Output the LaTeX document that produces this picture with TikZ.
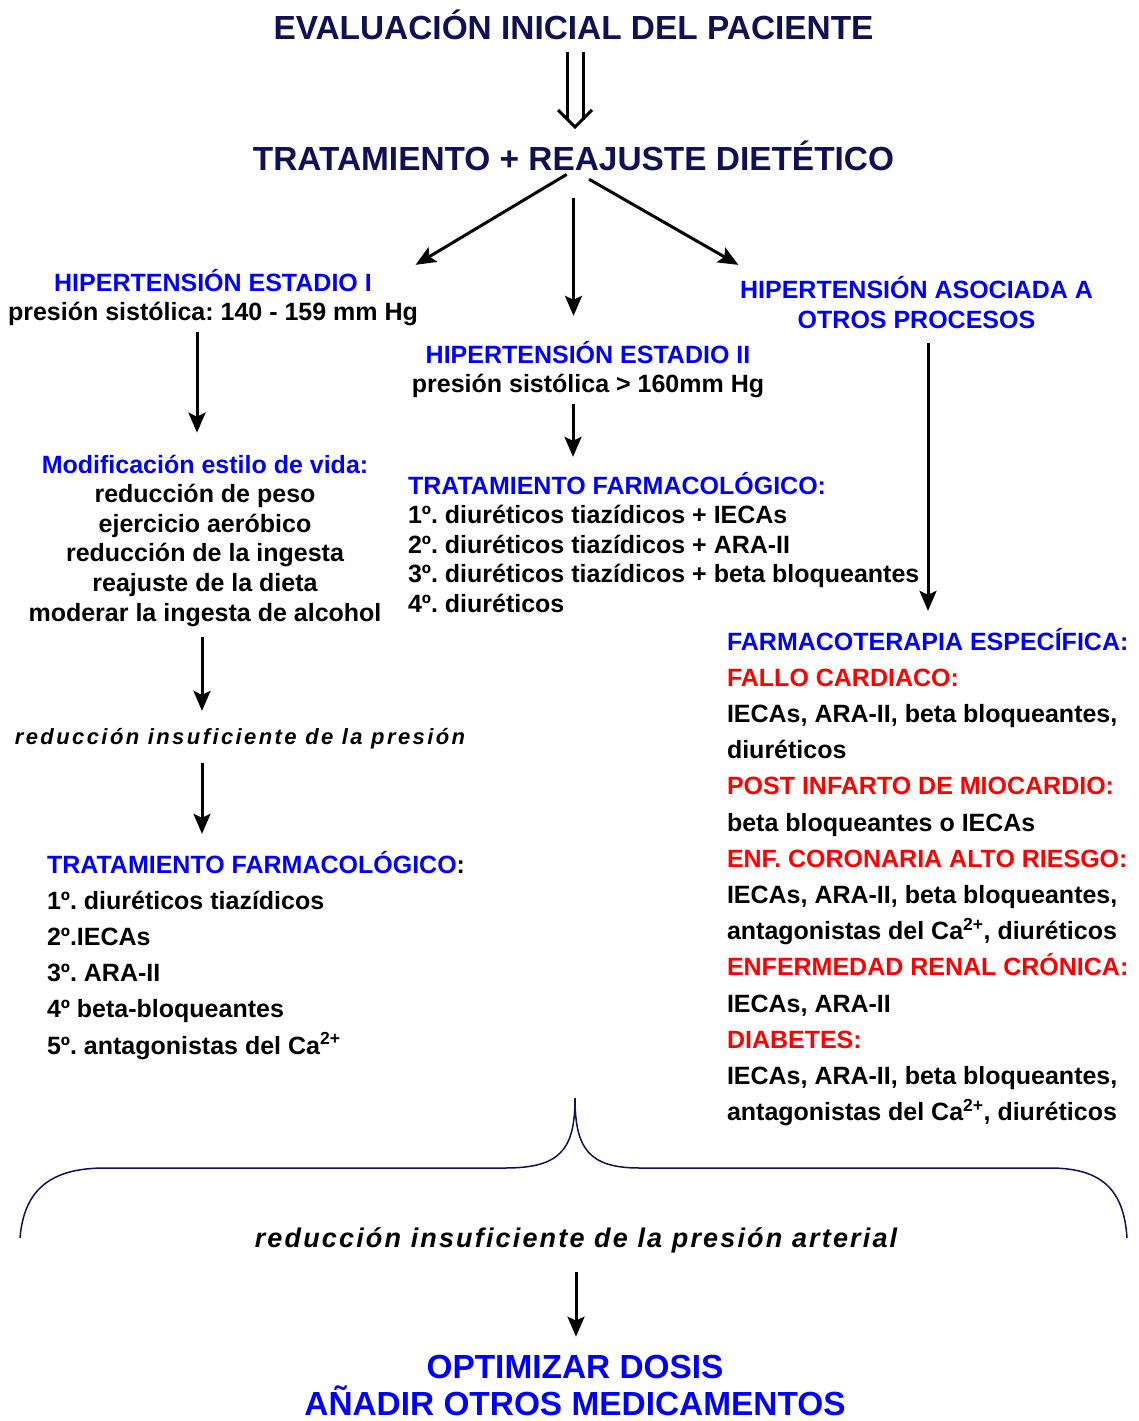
\documentclass[tikz,border=0pt]{standalone}
\usepackage{fontspec}
\setmainfont{Liberation Sans}
\newfontfamily\espaciadoA{Liberation Sans}[LetterSpace=11]
\newfontfamily\espaciadoB{Liberation Sans}[LetterSpace=8]
\usetikzlibrary{arrows.meta}
\definecolor{navy}{RGB}{16,16,84}
\definecolor{azul}{RGB}{0,0,255}
\definecolor{rojo}{RGB}{255,0,0}
\frenchspacing

\tikzset{
  titulo/.style={font=\fontsize{33.4}{35}\selectfont\bfseries, text=navy, inner sep=0pt, outer sep=0pt, anchor=base},
  texto/.style={font=\fontsize{25}{29}\selectfont\bfseries, inner sep=0pt, outer sep=0pt, anchor=base},
  lista/.style={font=\fontsize{25}{#1}\selectfont\bfseries, inner sep=0pt, outer sep=0pt, align=left, anchor=base west},
  nota/.style={font=\fontsize{#1}{#1}\selectfont\bfseries\itshape, inner sep=0pt, outer sep=0pt, anchor=base},
  final/.style={font=\fontsize{33.4}{37}\selectfont\bfseries, text=azul, inner sep=0pt, outer sep=0pt, align=center, anchor=base},
  arr/.style={line width=3pt, -{Stealth[length=20pt,width=17pt,inset=4pt]}},
  dbl/.style={line width=3pt, double, double distance=13pt}
}

\begin{document}
\begin{tikzpicture}[x=1pt,y=-1pt]
    \useasboundingbox (0,0) rectangle (1139,1421);

    % Titles (base = last line)
    \node[titulo] (eval) at (573.5,40) {EVALUACIÓN INICIAL DEL PACIENTE};
    \node[titulo] (trat) at (573.5,170) {TRATAMIENTO + REAJUSTE DIETÉTICO};

    % Three branches
    \node[texto, align=center] (est1) at (213,320) {\textcolor{azul}{HIPERTENSIÓN ESTADIO I}\\presión sistólica: 140 - 159 mm Hg};
    \node[texto, align=center] (est2) at (588,392) {\textcolor{azul}{HIPERTENSIÓN ESTADIO II}\\presión sistólica > 160mm Hg};
    \node[texto, align=center, text=azul, font=\fontsize{25}{30}\selectfont\bfseries] (est3) at (916.5,328) {HIPERTENSIÓN ASOCIADA A\\OTROS PROCESOS};

    % Left column
    \node[texto, align=center, font=\fontsize{25}{29.6}\selectfont\bfseries] (vida) at (205,621) {\textcolor{azul}{Modificación estilo de vida:}\\reducción de peso\\ejercicio aeróbico\\reducción de la ingesta\\reajuste de la dieta\\moderar la ingesta de alcohol};
    \node[nota=22] (red1) at (240,744) {\espaciadoA reducción insuficiente de la presión};
    \node[lista=36.2] (farm1) at (47,1054) {\textcolor{azul}{TRATAMIENTO FARMACOLÓGICO}:\\1º. diuréticos tiazídicos\\2º.IECAs\\3º. ARA-II\\4º beta-bloqueantes\\5º. antagonistas del Ca\textsuperscript{2+}};

    % Middle column
    \node[lista=29.5] (farm2) at (408,612) {\textcolor{azul}{TRATAMIENTO FARMACOLÓGICO:}\\1º. diuréticos tiazídicos + IECAs\\2º. diuréticos tiazídicos + ARA-II\\3º. diuréticos tiazídicos + beta bloqueantes\\4º. diuréticos};

    % Right column
    \node[lista=36.2] (espec) at (727,1120.6) {\textcolor{azul}{FARMACOTERAPIA ESPECÍFICA:}\\
        \textcolor{rojo}{FALLO CARDIACO:}\\IECAs, ARA-II, beta bloqueantes,\\diuréticos\\
        \textcolor{rojo}{POST INFARTO DE MIOCARDIO:}\\beta bloqueantes o IECAs\\
        \textcolor{rojo}{ENF. CORONARIA ALTO RIESGO:}\\IECAs, ARA-II, beta bloqueantes,\\antagonistas del Ca\textsuperscript{2+}, diuréticos\\
        \textcolor{rojo}{ENFERMEDAD RENAL CRÓNICA:}\\IECAs, ARA-II\\
        \textcolor{rojo}{DIABETES:}\\IECAs, ARA-II, beta bloqueantes,\\antagonistas del Ca\textsuperscript{2+}, diuréticos};

    % Bottom
    \node[nota=27] (red2) at (576,1247) {\espaciadoB reducción insuficiente de la presión arterial};
    \node[final] (optim) at (575,1415) {OPTIMIZAR DOSIS\\AÑADIR OTROS MEDICAMENTOS};

    % Brace
    \draw[navy, line width=1.5pt] (20,1238) .. controls (24,1190) and (50,1168) .. (105,1168) -- (505,1168)
        .. controls (560,1168) and (575,1150) .. (575,1098)
        .. controls (575,1150) and (590,1168) .. (640,1168) -- (1050,1168)
        .. controls (1102,1168) and (1124,1190) .. (1127,1238);

    % Double arrow
    \coordinate (punta) at (575,127);
    \draw[dbl, shorten <=12pt] (575,0 |- eval.south) -- (575,0 |- trat.north) [shorten >=20pt];
    \draw[line width=3pt, line join=miter] ([shift={(-17,-17)}]punta) -- (punta) -- ([shift={(17,-17)}]punta);

    % Arrows
    \draw[arr, shorten <=8pt, shorten >=2pt] (trat.south) -- ([xshift=-4pt,yshift=3pt]est1.north east);
    \draw[arr, shorten <=28pt, shorten >=25pt] (trat.south) -- (trat.south |- est2.north);
    \draw[arr, shorten <=18pt, shorten >=2pt] (trat.south) -- ([yshift=10pt]est3.north west);
    \draw[arr, shorten <=7pt, shorten >=22pt] (197,0 |- est1.south) -- (197,0 |- vida.north);
    \draw[arr, shorten <=11pt, shorten >=17pt] (202,0 |- vida.south) -- (202,0 |- red1.north);
    \draw[arr, shorten <=14pt, shorten >=17pt] (202,0 |- red1.south) -- (202,0 |- farm1.north);
    \draw[arr, shorten <=7pt, shorten >=15pt] (573,0 |- est2.south) -- (573,0 |- farm2.north);
    \draw[arr, shorten <=15pt, shorten >=17pt] (928,0 |- est3.south) -- (928,0 |- espec.north);
    \draw[arr, shorten <=19pt, shorten >=18pt] (576,0 |- red2.south) -- (576,0 |- optim.north);
\end{tikzpicture}
\end{document}
